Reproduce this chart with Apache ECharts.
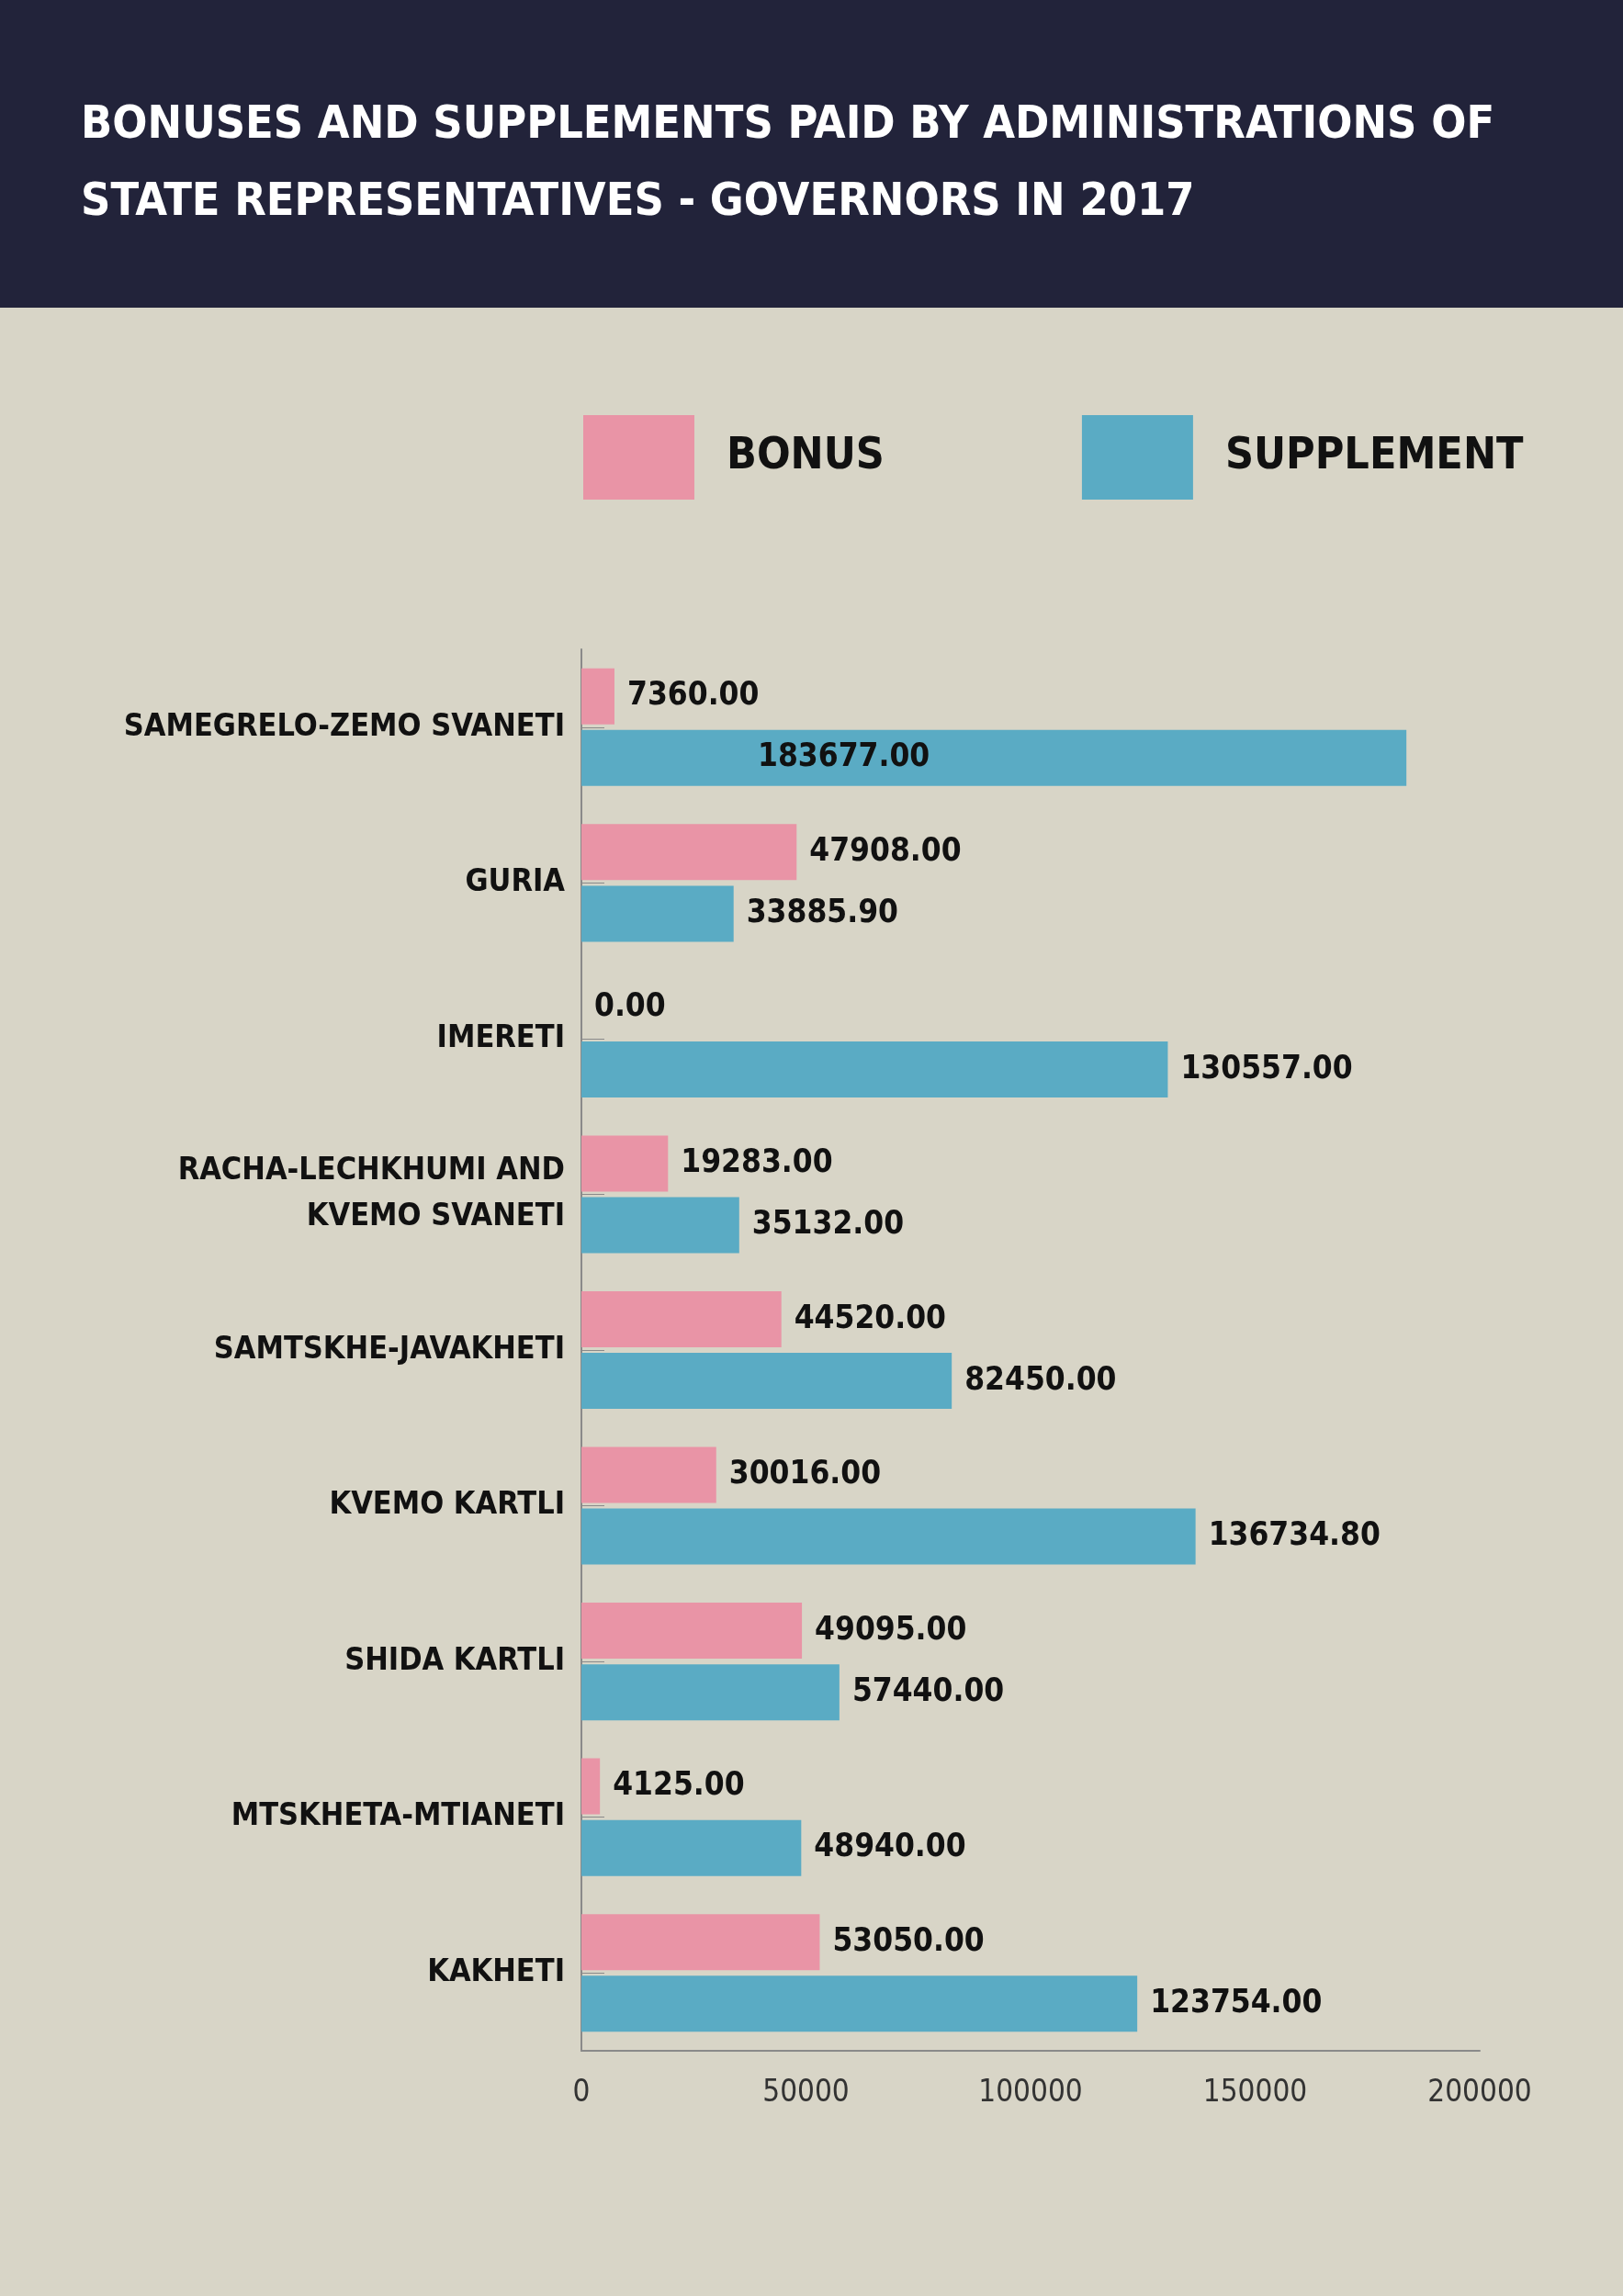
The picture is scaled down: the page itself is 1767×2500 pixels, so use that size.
<!DOCTYPE html>
<html lang="en">
<head>
<meta charset="UTF-8">
<title>Bonuses and supplements</title>
<script src="https://cdn.jsdelivr.net/npm/echarts@6/dist/echarts.min.js"></script>
<style>
  html, body { margin: 0; padding: 0; background: #d8d5c7; }
  #main { width: 1767px; height: 2500px; }
</style>
</head>
<body>
<div id="main"></div>
<script>
  var regions = ['SAMEGRELO-ZEMO SVANETI', 'GURIA', 'IMERETI', 'RACHA-LECHKHUMI AND\nKVEMO SVANETI',
    'SAMTSKHE-JAVAKHETI', 'KVEMO KARTLI', 'SHIDA KARTLI', 'MTSKHETA-MTIANETI', 'KAKHETI'];
  var bonus = [7360.00, 47908.00, 0.00, 19283.00, 44520.00, 30016.00, 49095.00, 4125.00, 53050.00];
  var supplement = [183677.00, 33885.90, 130557.00, 35132.00, 82450.00, 136734.80, 57440.00, 48940.00, 123754.00];

  var font = '"DejaVu Sans Condensed", "Liberation Sans Narrow", sans-serif';
  var chart = echarts.init(document.getElementById('main'));

  var labelStyle = {
    show: true, position: 'right', distance: 14,
    color: '#111', fontFamily: font, fontWeight: 'bold', fontSize: 35,
    formatter: function (p) { return p.value.toFixed(2); }
  };

  var suppData = supplement.map(function (v, i) {
    if (i === 0) {
      return { value: v, label: { position: 'insideLeft', offset: [178, 0] } };
    }
    return v;
  });

  chart.setOption({
    backgroundColor: '#d8d5c7',
    graphic: [
      { type: 'rect', left: 0, top: 0, shape: { width: 1767, height: 335 }, style: { fill: '#22233a' } },
      { type: 'text', left: 88, top: 95, style: {
          text: 'BONUSES AND SUPPLEMENTS PAID BY ADMINISTRATIONS OF\nSTATE REPRESENTATIVES - GOVERNORS IN 2017',
          fill: '#ffffff', font: 'bold 50px ' + font, lineHeight: 84 } }
    ],
    legend: {
      left: 630, top: 447,
      itemWidth: 121, itemHeight: 92, itemGap: 215,
      icon: 'rect',
      data: ['BONUS', 'SUPPLEMENT'],
      textStyle: { color: '#111', fontFamily: font, fontWeight: 'bold', fontSize: 48, padding: [0, 0, 0, 30] }
    },
    grid: { left: 633, right: 156, top: 707, bottom: 267 },
    xAxis: {
      type: 'value', min: 0, max: 200000, interval: 50000,
      axisLine: { show: true, lineStyle: { color: '#8a8a8a', width: 2 } },
      axisTick: { show: false },
      splitLine: { show: false },
      axisLabel: { color: '#333', fontFamily: font, fontSize: 33, margin: 30,
        formatter: function (v) { return String(v); } }
    },
    yAxis: {
      type: 'category', data: regions, inverse: true,
      axisLine: { show: true, lineStyle: { color: '#8a8a8a', width: 2 } },
      axisTick: { show: true, inside: true, length: 25, alignWithLabel: true, lineStyle: { color: '#8a8a8a' } },
      axisLabel: { color: '#111', fontFamily: font, fontWeight: 'bold', fontSize: 34, margin: 18, lineHeight: 50, align: 'right' }
    },
    series: [
      { name: 'BONUS', type: 'bar', data: bonus, barWidth: 61, barGap: '10%',
        itemStyle: { color: '#e994a6' }, label: labelStyle },
      { name: 'SUPPLEMENT', type: 'bar', data: suppData, barWidth: 61,
        itemStyle: { color: '#5aabc4' }, label: labelStyle }
    ]
  });
</script>
</body>
</html>
